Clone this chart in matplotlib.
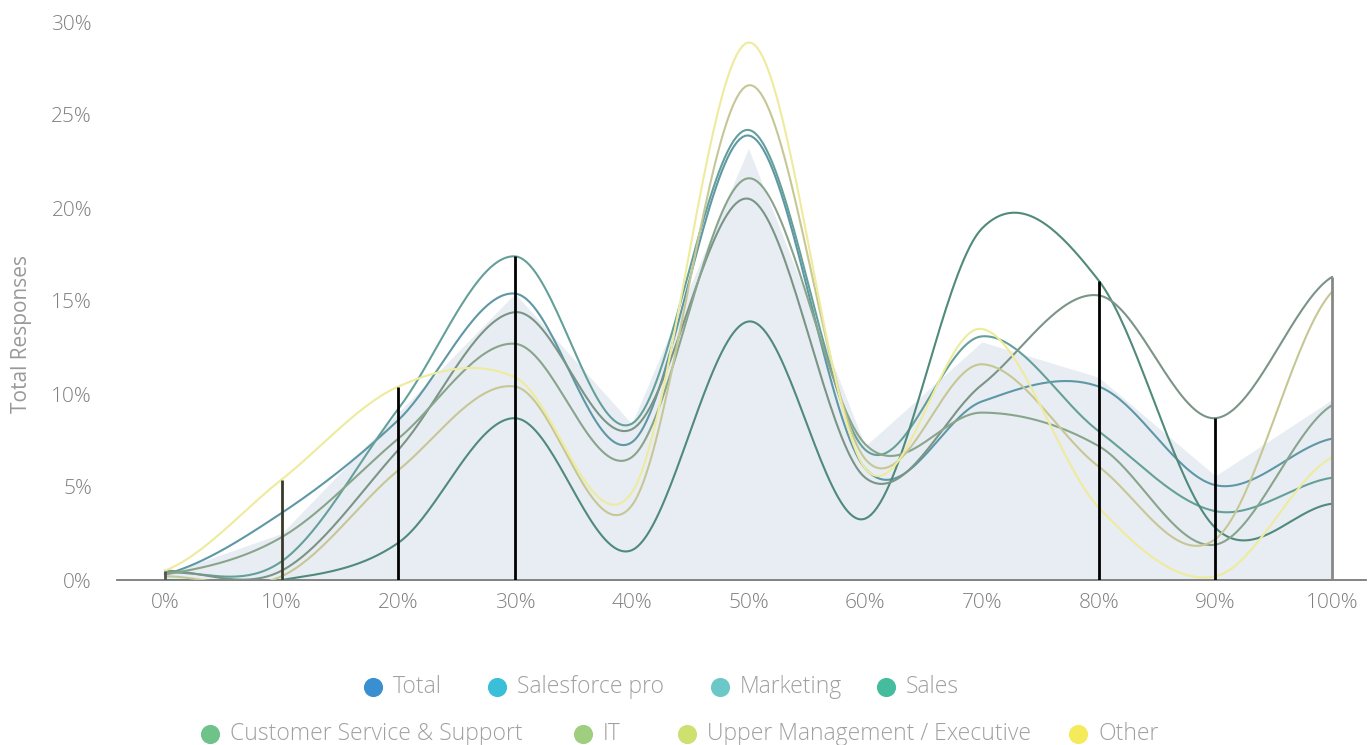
import numpy as np
import matplotlib.pyplot as plt

plt.rcParams['font.family'] = ['Open Sans', 'DejaVu Sans']
plt.rcParams['font.weight'] = 'light'

# x positions (percent of ...)
x_vals = [0, 10, 20, 30, 40, 50, 60, 70, 80, 90, 100]
x_labels = ['0%', '10%', '20%', '30%', '40%', '50%', '60%', '70%', '80%', '90%', '100%']

# shaded background series (Total)
total = [0.3, 2.5, 9.0, 15.4, 8.4, 23.2, 7.2, 12.8, 10.9, 5.6, 9.7]

# line series, values in %
salesforce_pro = [0.3, 3.6, 8.6, 15.4, 7.4, 23.9, 6.0, 9.6, 10.4, 5.1, 7.6]
marketing = [0.4, 1.0, 9.2, 17.4, 8.4, 24.2, 7.0, 13.1, 8.0, 3.7, 5.5]
sales = [0.0, 0.0, 2.0, 8.7, 1.6, 13.9, 3.3, 18.9, 16.1, 2.8, 4.1]
cust_service = [0.5, 0.5, 7.0, 14.4, 8.1, 20.5, 5.5, 10.5, 15.3, 8.7, 16.3]
it = [0.3, 2.3, 7.6, 12.7, 6.6, 21.6, 7.3, 9.0, 7.2, 1.9, 9.4]
upper_mgmt = [0.2, 0.2, 5.9, 10.4, 4.0, 26.6, 6.5, 11.6, 6.1, 2.2, 15.5]
other = [0.5, 5.4, 10.4, 10.9, 4.7, 28.9, 6.0, 13.5, 3.9, 0.2, 6.6]

legend_names = ['Total', 'Salesforce pro', 'Marketing', 'Sales',
                'Customer Service & Support', 'IT', 'Upper Management / Executive', 'Other']
legend_colors = ['#3a8fd0', '#3bbfd9', '#6cc8c8', '#46bc9f',
                 '#6fc28a', '#9fcf7e', '#cde070', '#f5ea5a']

lines = [salesforce_pro, marketing, sales, cust_service, it, upper_mgmt, other]
line_colors = ['#5e97a5', '#64a099', '#4f8a7b', '#7a9586', '#88a58b', '#c6c795', '#eeeb9c']

# drop lines at each x (None = not drawn)
drop_colors = ['#555555', '#3a3a2a', 'black', 'black', None, None, None, None,
               'black', 'black', '#888888']


def catmull_rom(x, y, n=40):
    x = np.asarray(x, float)
    y = np.asarray(y, float)
    yp = np.concatenate([[y[0]], y, [y[-1]]])
    xs, ys = [], []
    t = np.linspace(0, 1, n)
    h00 = 2*t**3 - 3*t**2 + 1
    h10 = t**3 - 2*t**2 + t
    h01 = -2*t**3 + 3*t**2
    h11 = t**3 - t**2
    for i in range(len(x) - 1):
        p0, p1, p2, p3 = yp[i], yp[i+1], yp[i+2], yp[i+3]
        m1 = (p2 - p0) / 2
        m2 = (p3 - p1) / 2
        xs.append(x[i] + t*(x[i+1] - x[i]))
        ys.append(h00*p1 + h10*m1 + h01*p2 + h11*m2)
    return np.concatenate(xs), np.concatenate(ys)


fig = plt.figure(figsize=(13.72, 7.45), dpi=100)
ax = fig.add_axes([117/1372, 1 - 580/745, (1366-117)/1372, (580-22)/745])

ax.fill_between(x_vals, total, 0, color='#e8edf4', lw=0, zorder=1)

for vals, c in zip(lines, line_colors):
    sx, sy = catmull_rom(x_vals, vals)
    ax.plot(sx, sy, color=c, lw=1.5, zorder=3, solid_capstyle='round')

tops = np.max(np.array(lines), axis=0)
for xv, top, c in zip(x_vals, tops, drop_colors):
    if c is None:
        continue
    ax.vlines(xv, 0, top, color=c, lw=2.0, zorder=4)

ax.set_xlim(-4.1, 102.9)
ax.set_ylim(0, 30)
ax.set_xticks(x_vals)
ax.set_xticklabels(x_labels)
ax.set_yticks([0, 5, 10, 15, 20, 25, 30])
ax.set_yticklabels(['0%', '5%', '10%', '15%', '20%', '25%', '30%'])
ax.tick_params(axis='both', length=0, labelsize=15, labelcolor='#808080')
ax.tick_params(axis='x', pad=9)
ax.tick_params(axis='y', pad=18)
for s in ['top', 'right', 'left']:
    ax.spines[s].set_visible(False)
ax.spines['bottom'].set_color('#7a7a7a')
ax.spines['bottom'].set_linewidth(1.3)
ax.set_ylabel('Total Responses', fontsize=15, color='#999999')
ax.yaxis.set_label_coords(-0.068, 0.44)

# legend drawn in pixel space
lax = fig.add_axes([0, 0, 1, 1])
lax.set_xlim(0, 1372)
lax.set_ylim(745, 0)
lax.axis('off')
legend_pos = [(373, 687), (497, 687), (720, 687), (886, 687),
              (210, 734), (583, 734), (687, 734), (1078, 734)]
for name, c, (px, py) in zip(legend_names, legend_colors, legend_pos):
    lax.scatter([px], [py], s=190, color=c, lw=0)
    lax.text(px + 20, py, name, fontsize=16.5, color='#a0a0a0', va='center', ha='left')

fig.savefig('out.png', dpi=100)
